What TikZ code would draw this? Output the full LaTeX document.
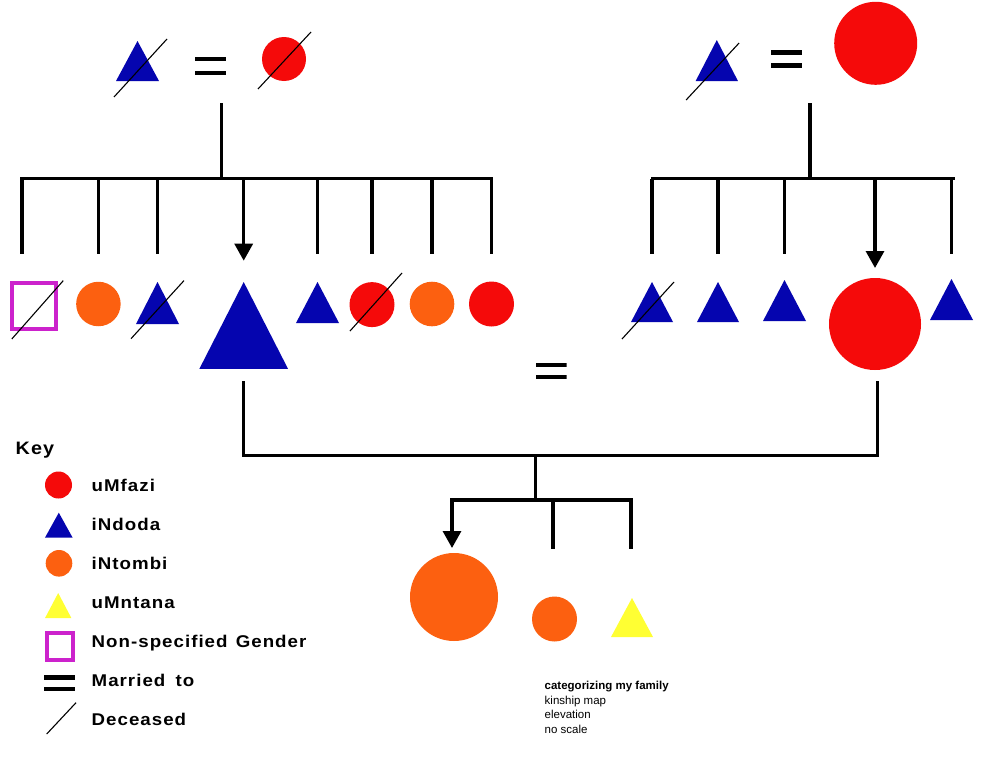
\documentclass[tikz,border=0pt]{standalone}
\usepackage{fontspec}
\setmainfont{Liberation Sans}
\newfontfamily\keyfont[LetterSpace=6,FakeStretch=1.1]{Liberation Sans}
\usetikzlibrary{arrows.meta,calc}
\definecolor{kred}{HTML}{F50A0A}
\definecolor{kblue}{HTML}{0505AF}
\definecolor{korange}{HTML}{FC6010}
\definecolor{kyellow}{HTML}{FFFF33}
\definecolor{kmag}{HTML}{CC22CC}
\begin{document}
\begin{tikzpicture}[x=1pt,y=-1pt,
  circ/.style={circle,fill=#1,draw=none,inner sep=0pt,outer sep=0pt},
  tri/.style={rectangle,draw=none,inner sep=0pt,outer sep=0pt,
    path picture={\fill[#1] (path picture bounding box.north) -- (path picture bounding box.south west) -- (path picture bounding box.south east) -- cycle;}},
  sq/.style={rectangle,draw=kmag,line width=4pt,inner sep=0pt,outer sep=0pt,fill=none},
  marr/.style={rectangle,draw=none,inner sep=0pt,outer sep=0pt,
    path picture={\fill[black] (path picture bounding box.north west) rectangle ([yshift=-#1]path picture bounding box.north east);
      \fill[black] (path picture bounding box.south west) rectangle ([yshift=#1]path picture bounding box.south east);}},
  marr/.default=4.5pt,
  link/.style={line width=3.2pt,black},
  bar/.style={link,line cap=rect},
  dead/.style={line width=1.1pt,black},
  arr/.style={link,-{Triangle[width=18pt,length=17pt]}},
  keylbl/.style={anchor=base west,inner sep=0pt,font=\keyfont\bfseries\fontsize{17}{20}\selectfont},
  note/.style={anchor=base west,inner sep=0pt,font=\fontsize{11.5}{14}\selectfont},
]
\fill[white] (0,0) rectangle (981,779);
\useasboundingbox (0,0) rectangle (981,779);

% ---------- top-left couple ----------
\node[tri=kblue,minimum width=43pt,minimum height=40pt] (gpa1) at (137.5,61) {};
\node[marr,minimum width=31pt,minimum height=18.5pt] (eq1) at (210.5,66) {};
\node[circ=kred,minimum size=44pt] (gma1) at (284,59) {};
\draw[dead] ($(gpa1.center)+(-23.5,36)$) -- ($(gpa1.center)+(29.5,-22)$);
\draw[dead] ($(gma1.center)+(-26,30)$) -- ($(gma1.center)+(27,-27)$);

% ---------- top-right couple ----------
\node[tri=kblue,minimum width=42.3pt,minimum height=41pt] (gpa2) at (716.8,60.5) {};
\node[marr=5pt,minimum width=31pt,minimum height=18.4pt] (eq2) at (786.5,59) {};
\node[circ=kred,minimum size=83pt] (gma2) at (875.7,43.3) {};
\draw[dead] ($(gpa2.center)+(-30.7,39.5)$) -- ($(gpa2.center)+(22.3,-17.5)$);

% ---------- sibling bars ----------
\coordinate (d1) at (221.7,103);
\coordinate (bl1) at (22,178.5);
\coordinate (bl2) at (491,178.5);
\coordinate (d2) at (810,103);
\coordinate (br1) at (652.7,178.5);
\coordinate (br2) at (953,178.5);
\draw[link] (d1) -- (d1 |- bl1);
\draw[bar] (bl1) -- (bl2);
\draw[link] (d2) -- (d2 |- br1);
\draw[bar] (br1) -- (br2);

% ---------- left siblings ----------
\node[sq,minimum width=43.5pt,minimum height=46pt] (s1) at (33.8,305.6) {};
\node[circ=korange,minimum size=44.5pt] (s2) at (98.4,304) {};
\node[tri=kblue,minimum width=43pt,minimum height=42pt] (s3) at (157.5,303) {};
\node[tri=kblue,minimum width=88.6pt,minimum height=86.8pt] (s4) at (243.7,325.4) {};
\node[tri=kblue,minimum width=43pt,minimum height=41pt] (s5) at (317.5,302.5) {};
\node[circ=kred,minimum size=45pt] (s6) at (372,304.6) {};
\node[circ=korange,minimum size=44.6pt] (s7) at (432,304) {};
\node[circ=kred,minimum size=45pt] (s8) at (491.5,304) {};
\draw[dead] ($(s1.center)+(-22,33.4)$) -- ($(s1.center)+(29.5,-25)$);
\draw[dead] ($(s3.center)+(-26.5,35.7)$) -- ($(s3.center)+(26.5,-22.4)$);
\draw[dead] ($(s6.center)+(-22,26.4)$) -- ($(s6.center)+(30,-31.6)$);

\draw[link] (bl1) -- ++(0,75.5);
\foreach \n in {s2,s3,s5,s6,s7,s8}
  \draw[link] (\n.north |- bl1) -- ++(0,75.5);
\draw[arr] (s4.north |- bl1) -- ([yshift=21.3pt]s4.north);

% ---------- right siblings ----------
\node[tri=kblue,minimum width=42pt,minimum height=40pt] (r1) at (652,302) {};
\node[tri=kblue,minimum width=42pt,minimum height=40pt] (r2) at (718,302) {};
\node[tri=kblue,minimum width=43pt,minimum height=41pt] (r3) at (784.5,300.5) {};
\node[circ=kred,minimum size=92pt] (r4) at (875,324) {};
\node[tri=kblue,minimum width=43pt,minimum height=41pt] (r5) at (951.5,299.5) {};
\draw[dead] ($(r1.center)+(-30,37)$) -- ($(r1.center)+(22,-20)$);
\foreach \n in {r1,r2,r3,r5}
  \draw[link] (\n.north |- br1) -- ++(0,75.5);
\draw[arr] (r4.north |- br1) -- ([yshift=10pt]r4.north);

% ---------- marriage of parents ----------
\node[marr,minimum width=31pt,minimum height=16.5pt] (eq3) at (551.2,371.2) {};
\coordinate (mbar) at (535.7,455.7);
\draw[link] ([yshift=-12.2pt]s4.south) |- (mbar) -| ([xshift=2.3pt,yshift=-11pt]r4.south);

% ---------- children ----------
\node[circ=korange,minimum size=88pt] (c1) at (454,597) {};
\node[circ=korange,minimum size=45pt] (c2) at (554.5,619) {};
\node[tri=kyellow,minimum width=42pt,minimum height=39pt] (c3) at (632,617.5) {};
\coordinate (cbar) at (535.7,500);
\draw[link] (mbar) -- (cbar);
\draw[bar] ($(c1.north |- cbar)+(-2,0)$) -- ($(c3.north |- cbar)+(-1,0)$);
\draw[arr] ($(c1.north |- cbar)+(-2,0)$) -- ($(c1.north)+(-2,-5)$);
\draw[link] ($(c2.north |- cbar)+(-1.5,0)$) -- ++(0,49);
\draw[link] ($(c3.north |- cbar)+(-1,0)$) -- ++(0,49);

% ---------- key ----------
\node[anchor=base west,inner sep=0pt,font=\keyfont\bfseries\fontsize{18}{22}\selectfont] (keyt) at (15.5,454) {Key};
\node[circ=kred,minimum size=27pt] (k1) at (58.5,485) {};
\node[keylbl] (l1) at (91.5,491.7) {uMfazi};
\node[tri=kblue,minimum width=27.7pt,minimum height=25pt] (k2) at (58.8,525.2) {};
\node[keylbl] (l2) at (91.5,530.7) {iNdoda};
\node[circ=korange,minimum size=26.6pt] (k3) at (59,563.3) {};
\node[keylbl] (l3) at (91.5,569.3) {iNtombi};
\node[tri=kyellow,minimum width=26.3pt,minimum height=25pt] (k4) at (58.2,605.5) {};
\node[keylbl] (l4) at (91.5,608.3) {uMntana};
\node[sq,minimum width=25.7pt,minimum height=26.7pt] (k5) at (59.8,646.3) {};
\node[keylbl] (l5) at (91.5,647) {Non-specified\hspace{2pt} Gender};
\node[marr,minimum width=31pt,minimum height=16pt] (k6) at (59.5,683) {};
\node[keylbl] (l6) at (91.5,686) {Married\hspace{4pt} to};
\coordinate (k7a) at (46.7,734);
\coordinate (k7b) at (76,702.7);
\draw[dead] (k7a) -- (k7b);
\node[keylbl] (l7) at (91.5,725) {Deceased};

% ---------- note ----------
\node[note,font=\bfseries\fontsize{11.5}{14}\selectfont] (t1) at (544.5,689) {categorizing my family};
\node[note] (t2) at (544.5,704.3) {kinship map};
\node[note] (t3) at (544.5,718.7) {elevation};
\node[note] (t4) at (544.5,733.3) {no scale};
\end{tikzpicture}
\end{document}
